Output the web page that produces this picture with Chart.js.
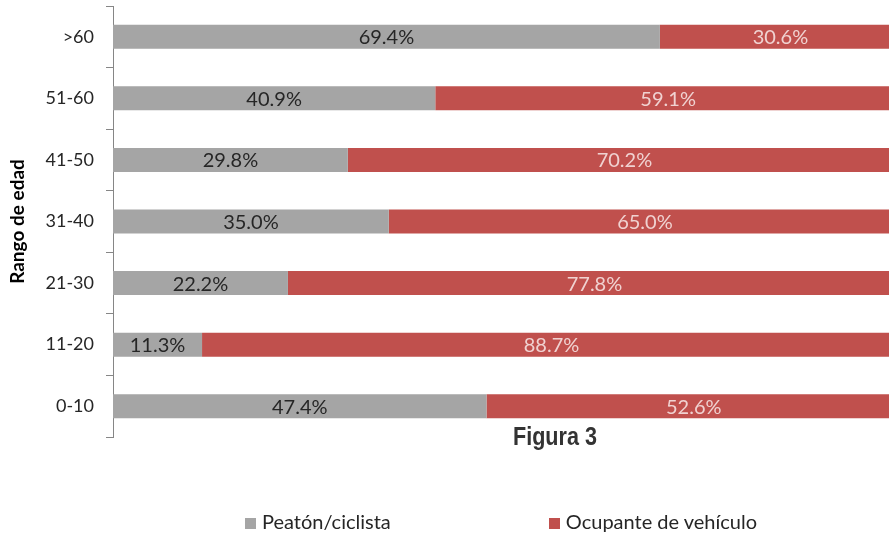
<!DOCTYPE html>
<html>
<head>
<meta charset="utf-8">
<script src="https://cdn.jsdelivr.net/npm/chart.js@4"></script>
<style>
  html, body { margin: 0; padding: 0; background: #fff; overflow: hidden; }
  #wrap { position: relative; width: 901px; height: 533px; }
  #title {
    position: absolute; left: 513px; top: 421px;
    font: bold 26px "Liberation Sans Narrow", "Liberation Sans", sans-serif;
    color: #333; transform: scaleX(0.83); transform-origin: left top; white-space: nowrap;
  }
  #legend {
    position: absolute; left: 245px; top: 509px;
    display: flex; gap: 158px;
    font: 20px Lato, sans-serif; color: #262626;
  }
  #legend span.box { display: inline-block; width: 11px; height: 11px; margin-right: 6px; }
</style>
</head>
<body>
<div id="wrap">
  <canvas id="chart"></canvas>
  <div id="title">Figura 3</div>
  <div id="legend"></div>
</div>
<script>
// Age groups, top to bottom
const ranges = [">60", "51-60", "41-50", "31-40", "21-30", "11-20", "0-10"];

// % per group
const peaton = [69.4, 40.9, 29.8, 35.0, 22.2, 11.3, 47.4];
const ocupante = [30.6, 59.1, 70.2, 65.0, 77.8, 88.7, 52.6];

const gray = "#A5A5A5";
const red = "#C0504D";

// value labels inside the bars
const barLabels = {
  id: "barLabels",
  afterDatasetsDraw(chart) {
    const ctx = chart.ctx;
    ctx.save();
    ctx.font = "20px Lato";
    ctx.textAlign = "center";
    ctx.textBaseline = "middle";
    chart.data.datasets.forEach((ds, i) => {
      ctx.fillStyle = i === 0 ? "#262626" : "#F0D2D1";
      chart.getDatasetMeta(i).data.forEach((bar, j) => {
        const p = bar.getCenterPoint();
        ctx.fillText(ds.data[j].toFixed(1) + "%", p.x, p.y + 1);
      });
    });
    ctx.restore();
  }
};

const chart = new Chart(document.getElementById("chart"), {
  type: "bar",
  data: {
    labels: ranges,
    datasets: [
      { label: "Peatón/ciclista", data: peaton, backgroundColor: gray },
      { label: "Ocupante de vehículo", data: ocupante, backgroundColor: red }
    ]
  },
  options: {
    indexAxis: "y",
    responsive: true,
    maintainAspectRatio: false,
    animation: false,
    layout: { padding: { top: 6, bottom: 96, left: 0, right: 0 } },
    datasets: { bar: { categoryPercentage: 1, barPercentage: 0.39 } },
    plugins: { legend: { display: false }, tooltip: { enabled: false } },
    scales: {
      x: { stacked: true, min: 0, max: 100, display: false },
      y: {
        stacked: true,
        grid: { offset: true, drawOnChartArea: false, drawTicks: true, tickLength: 7, color: "#868686" },
        border: { display: true, color: "#868686" },
        ticks: { font: { family: "Lato", size: 18 }, color: "#262626", padding: 12 },
        title: {
          display: true, text: "Rango de edad", color: "#000",
          font: { family: "Lato", size: 19, weight: "bold" },
          padding: { top: 6, bottom: 0 }
        },
        afterFit(scale) {
          scale.width = 113;
          scale.paddingTop = 0;
          scale.paddingBottom = 0;
        }
      }
    }
  },
  plugins: [barLabels]
});

// legend below the chart
const legend = document.getElementById("legend");
chart.data.datasets.forEach(ds => {
  const item = document.createElement("div");
  item.innerHTML = '<span class="box" style="background:' + ds.backgroundColor + '"></span>' + ds.label;
  legend.appendChild(item);
});
</script>
</body>
</html>
